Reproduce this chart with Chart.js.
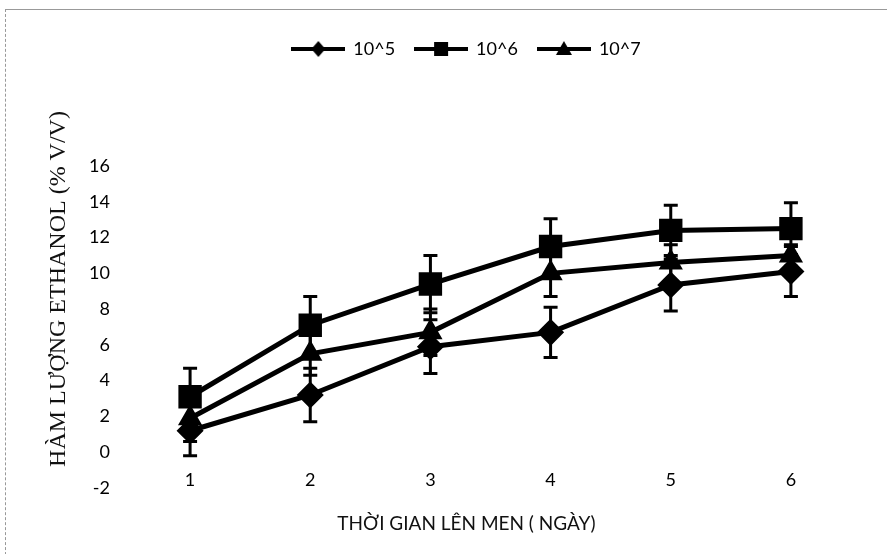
<!DOCTYPE html>
<html>
<head>
<meta charset="utf-8">
<script src="https://cdn.jsdelivr.net/npm/chart.js@4.4.1/dist/chart.umd.min.js"></script>
<style>
html, body { margin: 0; padding: 0; background: #fff; }
#wrap { position: relative; width: 887px; height: 554px; overflow: hidden; }
#frame { position: absolute; left: 5px; top: 9px; width: 900px; height: 560px; border-left: 1px dashed #999; border-top: 1px solid #999; }
</style>
</head>
<body>
<div id="wrap">
  <canvas id="ethanolChart" width="887" height="554"></canvas>
  <div id="frame"></div>
</div>
<script>
// data
const days = ['1', '2', '3', '4', '5', '6'];
const seriesNames = ['10^5', '10^6', '10^7'];
const ethanol105 = [1.2, 3.2, 5.9, 6.7, 9.35, 10.1];
const ethanol106 = [3.1, 7.1, 9.4, 11.5, 12.4, 12.5];
const ethanol107 = [1.9, 5.5, 6.7, 10.0, 10.6, 11.0];
const error105 = [1.4, 1.5, 1.5, 1.4, 1.45, 1.4];
const error106 = [1.6, 1.6, 1.6, 1.55, 1.4, 1.45];
const error107 = [1.3, 1.2, 1.3, 1.3, 1.0, 0.6];
const yTicks = [-2, 0, 2, 4, 6, 8, 10, 12, 14, 16];

const yTitle = 'HÀM LƯỢNG ETHANOL (% V/V)';
const xTitle = 'THỜI GIAN LÊN MEN ( NGÀY)';

// small canvas used as legend icon: line with marker in the middle
function legendIcon(shape) {
    const c = document.createElement('canvas');
    c.width = 54;
    c.height = 18;
    const g = c.getContext('2d');
    g.fillStyle = '#000';
    g.strokeStyle = '#000';
    g.lineWidth = 4;
    g.beginPath();
    g.moveTo(0, 9);
    g.lineTo(54, 9);
    g.stroke();
    g.beginPath();
    if (shape === 'diamond') {
        g.moveTo(27, 1); g.lineTo(34, 9); g.lineTo(27, 17); g.lineTo(20, 9);
    } else if (shape === 'square') {
        g.rect(20, 2, 14, 14);
    } else {
        g.moveTo(27, 1); g.lineTo(35, 15); g.lineTo(19, 15);
    }
    g.closePath();
    g.fill();
    return c;
}

const legendIcons = [legendIcon('diamond'), legendIcon('square'), legendIcon('triangle')];

const errorBars = {
    id: 'errorBars',
    beforeDatasetsDraw(chart) {
        const ctx = chart.ctx;
        const yScale = chart.scales.y;
        ctx.save();
        ctx.strokeStyle = '#000';
        ctx.lineWidth = 3;
        chart.data.datasets.forEach((ds, i) => {
            const meta = chart.getDatasetMeta(i);
            meta.data.forEach((pt, j) => {
                const top = yScale.getPixelForValue(ds.data[j] + ds.errors[j]);
                const bot = yScale.getPixelForValue(ds.data[j] - ds.errors[j]);
                ctx.beginPath();
                ctx.moveTo(pt.x, top); ctx.lineTo(pt.x, bot);
                ctx.moveTo(pt.x - 7, top); ctx.lineTo(pt.x + 7, top);
                ctx.moveTo(pt.x - 7, bot); ctx.lineTo(pt.x + 7, bot);
                ctx.stroke();
            });
        });
        ctx.restore();
    }
};

// axis titles sit a little off-centre in the original, so draw them by hand
const axisTitles = {
    id: 'axisTitles',
    afterDraw(chart) {
        const ctx = chart.ctx;
        const area = chart.chartArea;
        ctx.save();
        ctx.fillStyle = '#111';
        ctx.textAlign = 'center';
        ctx.textBaseline = 'middle';
        ctx.font = '19px Lato';
        ctx.fillText(xTitle, (area.left + area.right) / 2 - 24, 524);
        ctx.translate(59, (area.top + area.bottom) / 2 - 38);
        ctx.rotate(-Math.PI / 2);
        ctx.font = '24px "Liberation Serif"';
        ctx.fillText(yTitle, 0, 0);
        ctx.restore();
    }
};

const legendSpace = {
    id: 'legendSpace',
    beforeInit(chart) {
        const fit = chart.legend.fit;
        chart.legend.fit = function () {
            fit.bind(chart.legend)();
            this.height = 146;
        };
    }
};

const ctx = document.getElementById('ethanolChart').getContext('2d');

const chart = new Chart(ctx, {
    type: 'line',
    data: {
        labels: days,
        datasets: [
            {
                label: seriesNames[0],
                data: ethanol105,
                errors: error105,
                pointStyle: 'rectRot',
                pointRadius: 10,
                borderWidth: 5,
            },
            {
                label: seriesNames[1],
                data: ethanol106,
                errors: error106,
                pointStyle: 'rect',
                pointRadius: 13,
                borderWidth: 5,
            },
            {
                label: seriesNames[2],
                data: ethanol107,
                errors: error107,
                pointStyle: 'triangle',
                pointRadius: 9,
                borderWidth: 5,
            },
        ],
    },
    options: {
        responsive: false,
        animation: false,
        borderColor: '#000',
        backgroundColor: '#000',
        elements: {
            line: { borderColor: '#000', tension: 0 },
            point: { backgroundColor: '#000', borderColor: '#000', borderWidth: 0 },
        },
        layout: {
            padding: { top: 20, left: 82, right: 36, bottom: 10 },
        },
        plugins: {
            legend: {
                position: 'top',
                labels: {
                    usePointStyle: true,
                    pointStyleWidth: 52,
                    padding: 20,
                    color: '#000',
                    font: { family: 'Lato', size: 18 },
                    generateLabels(chart) {
                        return chart.data.datasets.map((ds, i) => ({
                            text: ds.label,
                            pointStyle: legendIcons[i],
                            fillStyle: '#000',
                            strokeStyle: '#000',
                            lineWidth: 0,
                            fontColor: '#000',
                            datasetIndex: i,
                        }));
                    },
                },
            },
            tooltip: { enabled: false },
        },
        scales: {
            x: {
                offset: true,
                grid: { display: false },
                border: { display: false },
                // mirrored so the day labels can sit just above the bottom edge without clipping
                ticks: { color: '#000', mirror: true, padding: -3, font: { family: 'Lato', size: 18 } },
                afterFit(scale) { scale.height = 56; },
            },
            y: {
                min: -2,
                max: 16,
                grid: { display: false },
                border: { display: false },
                afterBuildTicks(scale) { scale.ticks = yTicks.map(v => ({ value: v })); },
                ticks: { color: '#000', padding: 12, font: { family: 'Lato', size: 18 } },
                afterFit(scale) { scale.width = 48; },
            },
        },
    },
    plugins: [errorBars, axisTitles, legendSpace],
});
</script>
</body>
</html>
